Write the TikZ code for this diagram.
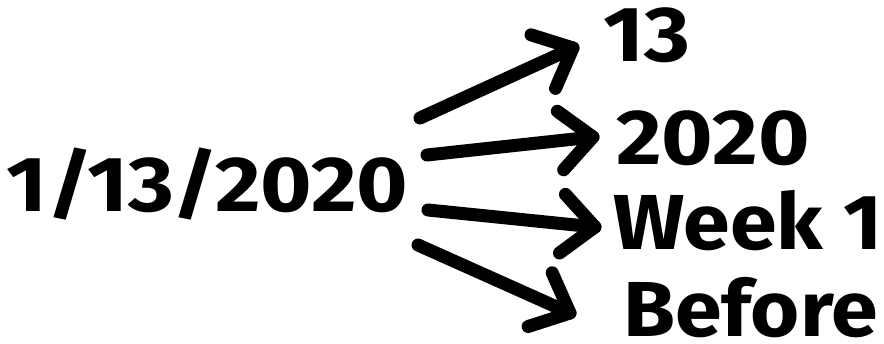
\documentclass[tikz,border=0pt]{standalone}
\usepackage{fontspec}
\setmainfont{Fira Sans}
\usetikzlibrary{calc}
\newcommand{\wide}[2][1.13]{\scalebox{#1}[1]{#2}}
\begin{document}
\begin{tikzpicture}[x=1pt,y=-1pt,
  lbl/.style={anchor=base west,inner sep=0pt,font=\fontsize{78}{86}\selectfont\bfseries},
  arr/.style={line width=13pt,line cap=round,line join=round}]
\useasboundingbox (0,0) rectangle (884,344);
\node[lbl] (src) at (6,212) {\wide{1/13/2020}};
\node[lbl] (d) at (603,62) {\wide{13}};
\node[lbl] (y) at (616,165) {\wide{2020}};
\node[lbl] (w) at (613,250) {\wide[1.08]{Week 1}};
\node[lbl] (b) at (623,337) {\wide[1.08]{Before}};
\coordinate (s1) at (420,118); \coordinate (e1) at (573,48);
\coordinate (s2) at (427,155); \coordinate (e2) at (593,137);
\coordinate (s3) at (428,210); \coordinate (e3) at (595,227);
\coordinate (s4) at (418,245); \coordinate (e4) at (570,313);
\foreach \i in {1,2,3,4}{
  \draw[arr] (s\i) -- (e\i);
  \draw[arr] ($(e\i)!44pt!42:(s\i)$) -- (e\i) -- ($(e\i)!44pt!-42:(s\i)$);
}
\end{tikzpicture}
\end{document}
